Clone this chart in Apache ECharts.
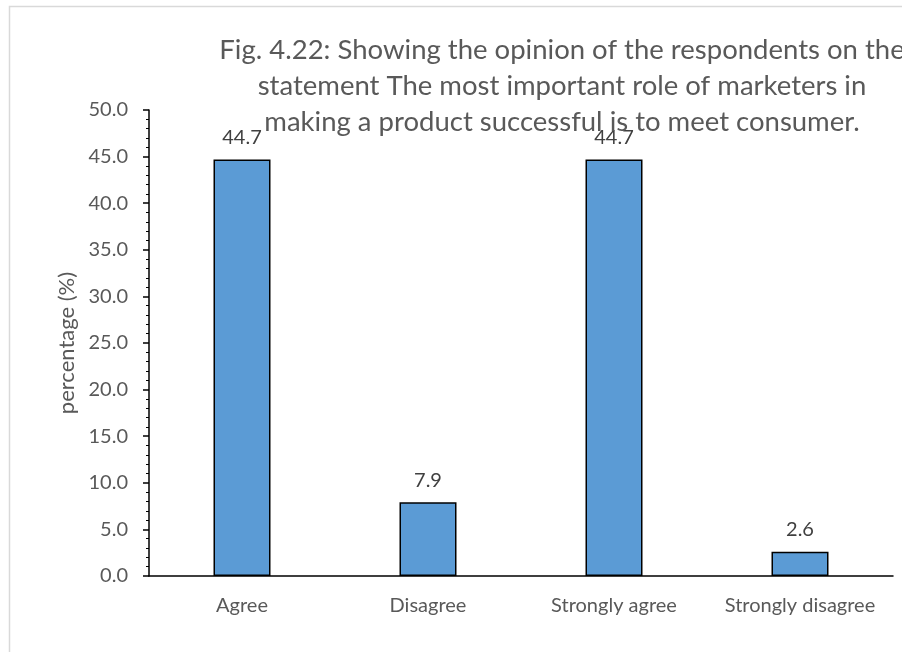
<!DOCTYPE html>
<html>
<head>
<meta charset="utf-8">
<script src="https://cdn.jsdelivr.net/npm/echarts@6/dist/echarts.min.js"></script>
<style>
    html, body { margin: 0; padding: 0; background: #fff; }
    #chart { width: 902px; height: 652px; }
</style>
</head>
<body>
<div id="chart"></div>
<script>
    // categories and values
    var categories = ['Agree', 'Disagree', 'Strongly agree', 'Strongly disagree'];
    var percentValues = [44.7, 7.9, 44.7, 2.6];
    var yTicks = {min: 0, max: 50, step: 5};
    var titleText = 'Fig. 4.22: Showing the opinion of the respondents on the\nstatement The most important role of marketers in\nmaking a product successful is to meet consumer.';

    var FONT = 'Lato';
    var chart = echarts.init(document.getElementById('chart'));

    var option = {
        backgroundColor: '#fff',
        textStyle: {fontFamily: FONT},
        graphic: [{
            type: 'rect',
            shape: {x: 9.5, y: 6.5, width: 900, height: 650},
            style: {fill: 'none', stroke: '#d9d9d9', lineWidth: 1.5},
            z: -1
        }],
        title: {
            text: titleText,
            left: 557,
            top: 27,
            textAlign: 'center',
            textStyle: {
                fontFamily: FONT,
                fontSize: 27.5,
                fontWeight: 'normal',
                color: '#595959',
                lineHeight: 36
            }
        },
        grid: {left: 149, right: 9, top: 110, bottom: 76},
        xAxis: {
            type: 'category',
            data: categories,
            axisLine: {lineStyle: {color: '#000', width: 1.5}},
            axisTick: {show: false},
            axisLabel: {color: '#595959', fontSize: 20, margin: 20, interval: 0}
        },
        yAxis: {
            type: 'value',
            min: yTicks.min,
            max: yTicks.max,
            interval: yTicks.step,
            name: 'percentage (%)',
            nameLocation: 'middle',
            nameGap: 68,
            nameTextStyle: {color: '#595959', fontSize: 22},
            axisLine: {show: true, lineStyle: {color: '#000', width: 1.5}},
            axisTick: {show: true, length: 6, lineStyle: {color: '#000', width: 1.5}},
            minorTick: {show: true, splitNumber: 5, length: 3, lineStyle: {color: '#000', width: 1}},
            splitLine: {show: false},
            axisLabel: {
                color: '#595959',
                fontSize: 20,
                margin: 21,
                formatter: function (v) { return v.toFixed(1); }
            }
        },
        series: [{
            type: 'bar',
            data: percentValues,
            barWidth: 57,
            itemStyle: {color: '#5b9bd5', borderColor: '#000', borderWidth: 1.5},
            label: {
                show: true,
                position: 'top',
                distance: 12,
                color: '#404040',
                fontSize: 20,
                formatter: function (p) { return p.value.toFixed(1); }
            }
        }]
    };

    chart.setOption(option);
</script>
</body>
</html>
